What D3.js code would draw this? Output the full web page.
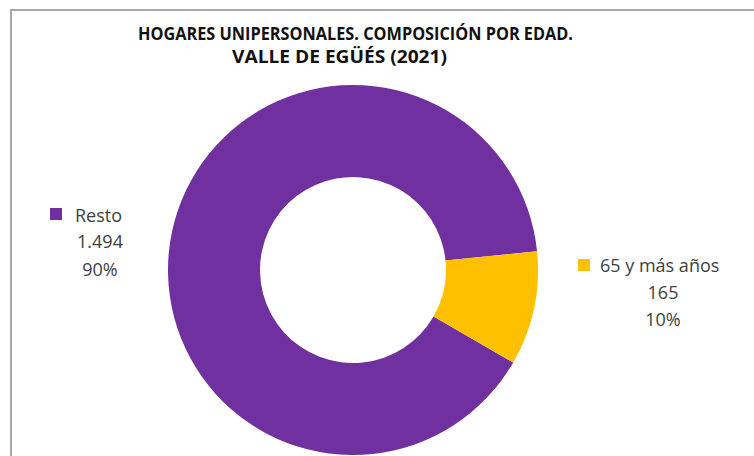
<!DOCTYPE html>
<html><head><meta charset="utf-8">
<script src="https://cdn.jsdelivr.net/npm/d3@7"></script>
<style>body{margin:0;background:#fff;} svg{display:block;}</style>
</head><body>
<svg id="chart" width="754" height="456"></svg>
<script>
const categories = ["Resto", "65 y más años"];
const values = [1494, 165];
const valueLabels = ["1.494", "165"];
const percentLabels = ["90%", "10%"];
const colors = ["#7030A0", "#FFC000"];
const titleLines = ["HOGARES UNIPERSONALES. COMPOSICIÓN POR EDAD.", "VALLE DE EGÜÉS (2021)"];

const svg = d3.select("#chart");
svg.append("rect").attr("width",754).attr("height",456).attr("fill","#fff");

// frame
svg.append("path").attr("d","M11,456 V10 H754").attr("fill","none")
  .attr("stroke","#a9a9a9").attr("stroke-width",2);

// title
const tt = svg.append("g").attr("font-family","'Open Sans', sans-serif")
  .attr("font-weight","bold").attr("font-size",18).attr("fill","#111");
tt.append("text").attr("x",138).attr("y",40).attr("textLength",435)
  .attr("lengthAdjust","spacingAndGlyphs").text(titleLines[0]);
tt.append("text").attr("x",232).attr("y",63).attr("textLength",215)
  .attr("lengthAdjust","spacingAndGlyphs").text(titleLines[1]);

// donut
const cx = 353, cy = 270, rOut = 185, rIn = 93;
const startDeg = 120;
const pie = d3.pie().sort(null).value(d => d)
  .startAngle(startDeg*Math.PI/180).endAngle((startDeg+360)*Math.PI/180);
const arc = d3.arc().innerRadius(rIn).outerRadius(rOut);
const g = svg.append("g").attr("transform",`translate(${cx},${cy})`);
g.selectAll("path").data(pie(values)).join("path")
  .attr("d",arc).attr("fill",(d,i)=>colors[i]);

// labels
const lab = [
  {sq:[50,208], nameX:75, nameY:222, valX:100, valY:248, pctY:276},
  {sq:[578,259], nameX:600, nameY:272, valX:663, valY:299, pctY:326}
];
const lg = svg.append("g").attr("font-family","'Open Sans', sans-serif")
  .attr("font-size",18).attr("fill","#404040");
categories.forEach((c,i)=>{
  const L = lab[i];
  lg.append("rect").attr("x",L.sq[0]).attr("y",L.sq[1]).attr("width",12).attr("height",12).attr("fill",colors[i]);
  lg.append("text").attr("x",L.nameX).attr("y",L.nameY).text(c);
  lg.append("text").attr("x",L.valX).attr("y",L.valY).attr("text-anchor","middle").text(valueLabels[i]);
  lg.append("text").attr("x",L.valX).attr("y",L.pctY).attr("text-anchor","middle").text(percentLabels[i]);
});
</script>
</body></html>
